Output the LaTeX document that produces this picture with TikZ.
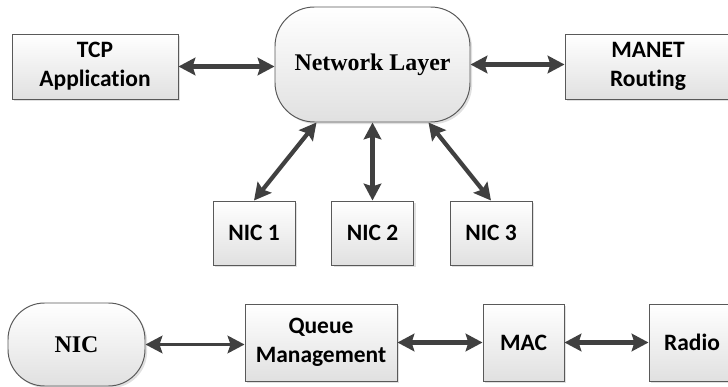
\documentclass[tikz,border=0pt]{standalone}
\usepackage{fontspec}
\setmainfont{Liberation Serif}
\setsansfont{Carlito}[Ligatures=NoCommon]
\usetikzlibrary{arrows.meta,shadows}

\begin{document}
\begin{tikzpicture}[
    block/.style={rectangle, draw=black!65, line width=0.7pt, top color=white, bottom color=black!12,
        drop shadow={shadow xshift=1.5pt, shadow yshift=-1.5pt, fill=black!20, opacity=0.6},
        font=\sffamily\bfseries\fontsize{16.7}{20.6}\selectfont, align=center, inner sep=0pt},
    layer/.style={block, font=\rmfamily\bfseries\fontsize{17}{20}\selectfont},
    tip/.tip={Stealth[length=12pt, width=12.5pt, inset=2pt]},
    link/.style={draw=black!75, line width=3pt, tip-tip},
    thinlink/.style={link, line width=2pt}]
    \useasboundingbox (0, 0) rectangle (18.2, -9.675);

    % upper part
    \node at (9.3125, -1.6125) [layer, rounded corners=28pt, minimum width=4.875cm, minimum height=2.875cm] (net) {Network Layer};
    \node at (2.375, -1.6625) [block, minimum width=4.15cm, minimum height=1.625cm] (tcp) {TCP\\Application};
    \node at (16.2, -1.6625) [block, minimum width=4.15cm, minimum height=1.625cm] (manet) {MANET\\Routing};

    \node at (6.35, -5.825) [block, minimum width=2.05cm, minimum height=1.6cm] (nic1) {NIC 1};
    \node at (9.3125, -5.825) [block, minimum width=2.05cm, minimum height=1.6cm] (nic2) {NIC 2};
    \node at (12.275, -5.825) [block, minimum width=2.05cm, minimum height=1.6cm] (nic3) {NIC 3};

    \draw [link] (tcp.east) -- (tcp.east -| net.west);
    \draw [link] (net.east) -- (net.east -| manet.west);
    \draw [link] (nic1.north) -- (net.226);
    \draw [link] (nic2.north) -- (net.south);
    \draw [link] (nic3.north) -- (net.314);

    % lower part
    \node at (1.9125, -8.6125) [layer, rounded corners=26pt, minimum width=3.425cm, minimum height=2.075cm] (nic) {NIC};
    \node at (8.025, -8.5625) [block, minimum width=3.8cm, minimum height=1.925cm] (queue) {Queue\\Management};
    \node at (13.0875, -8.5625) [block, minimum width=2.025cm, minimum height=1.925cm] (mac) {MAC};
    \node at (17.3, -8.5625) [block, minimum width=2.15cm, minimum height=1.925cm] (radio) {Radio};

    \draw [thinlink] (nic.east) -- (nic.east -| queue.west);
    \draw [link] (queue.east) -- (mac.west);
    \draw [link] (mac.east) -- (radio.west);
\end{tikzpicture}
\end{document}
